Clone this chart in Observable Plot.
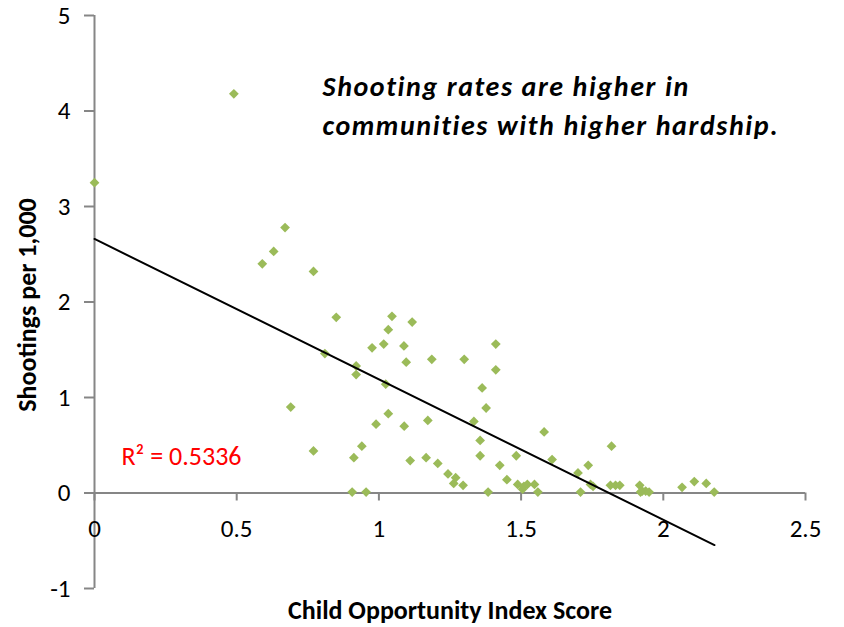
<!DOCTYPE html>
<html>
<head>
<meta charset="utf-8">
<script src="https://cdn.jsdelivr.net/npm/d3@7"></script>
<script src="https://cdn.jsdelivr.net/npm/@observablehq/plot@0.6"></script>
<style>
  html, body { margin: 0; padding: 0; background: #fff; }
  #chart { width: 844px; height: 627px; }
</style>
</head>
<body>
<div id="chart"></div>
<script>
// Child Opportunity Index Score (x) vs shootings per 1,000 (y)
const coiScore = [
  0.00, 0.49, 0.59, 0.63, 0.67, 0.69, 0.77, 0.77, 0.81, 0.85,
  0.906, 0.912, 0.92, 0.92, 0.94, 0.955, 0.976, 0.99, 1.017, 1.024,
  1.033, 1.033, 1.046, 1.088, 1.089, 1.096, 1.11, 1.117, 1.166, 1.172,
  1.186, 1.207, 1.243, 1.27, 1.263, 1.296, 1.30, 1.334, 1.356, 1.356,
  1.363, 1.377, 1.384, 1.411, 1.411, 1.425, 1.45, 1.483, 1.488, 1.505,
  1.51, 1.522, 1.547, 1.559, 1.581, 1.609, 1.70, 1.709, 1.736, 1.744,
  1.753, 1.818, 1.814, 1.832, 1.847, 1.917, 1.926, 1.938, 1.95, 1.92,
  2.066, 2.109, 2.151, 2.179
];
const shootingRate = [
  3.25, 4.18, 2.40, 2.53, 2.78, 0.90, 2.32, 0.44, 1.46, 1.84,
  0.01, 0.37, 1.33, 1.24, 0.49, 0.01, 1.52, 0.72, 1.56, 1.14,
  1.71, 0.83, 1.85, 1.54, 0.70, 1.37, 0.34, 1.79, 0.37, 0.76,
  1.40, 0.31, 0.20, 0.16, 0.10, 0.08, 1.40, 0.75, 0.55, 0.39,
  1.10, 0.89, 0.01, 1.56, 1.29, 0.29, 0.14, 0.39, 0.09, 0.04,
  0.07, 0.09, 0.09, 0.01, 0.64, 0.35, 0.21, 0.01, 0.29, 0.09,
  0.07, 0.49, 0.08, 0.08, 0.08, 0.08, 0.02, 0.02, 0.01, 0.01,
  0.06, 0.12, 0.10, 0.01
];
// Linear trendline end points
const trendX = [0, 2.18];
const trendY = [2.66, -0.545];
const xTicks = [0, 0.5, 1, 1.5, 2, 2.5];
const yTicks = [-1, 0, 1, 2, 3, 4, 5];
const xTitle = "Child Opportunity Index Score";
const yTitle = "Shootings per 1,000";
const rSquaredLabel = "R² = 0.5336";
const annotation = "Shooting rates are higher in\ncommunities with higher hardship.";

const points = coiScore.map((x, i) => ({x, y: shootingRate[i]}));
const trend = trendX.map((x, i) => ({x, y: trendY[i]}));

const W = 844, H = 627;
const mTop = 15, mBottom = 39, mLeft = 94, mRight = 39;
const plotH = H - mTop - mBottom;
const yDomain = [-1, 5];
const zeroShift = -plotH * (0 - yDomain[0]) / (yDomain[1] - yDomain[0]);

const font = "Carlito, Calibri, Lato, 'Open Sans', sans-serif";
const axisColor = "#868686";

const chart = Plot.plot({
  width: W,
  height: H,
  marginTop: mTop,
  marginBottom: mBottom,
  marginLeft: mLeft,
  marginRight: mRight,
  style: {fontFamily: font, background: "#fff", color: "#000"},
  x: {domain: [0, 2.5]},
  y: {domain: yDomain},
  marks: [
    // axis lines
    Plot.ruleY([0], {stroke: axisColor, strokeWidth: 2}),
    Plot.ruleX([0], {stroke: axisColor, strokeWidth: 2}),
    Plot.axisY({
      ticks: yTicks, tickSize: 10, tickPadding: 14, stroke: axisColor, strokeWidth: 2,
      fill: "#000", fontSize: 25, label: null, tickFormat: d => String(d)
    }),
    Plot.axisX({
      ticks: xTicks, tickSize: 8, tickPadding: 18, stroke: axisColor, strokeWidth: 2,
      fill: "#000", fontSize: 25, label: null, dy: zeroShift, tickFormat: d => String(d)
    }),
    // data
    Plot.dot(points, {x: "x", y: "y", symbol: "diamond2", r: 4.4, fill: "#9BBB59", stroke: "none"}),
    Plot.line(trend, {x: "x", y: "y", stroke: "#000", strokeWidth: 2}),
    // R squared
    Plot.text([rSquaredLabel], {
      frameAnchor: "top-left", dx: 121 - mLeft, dy: 446 - mTop, lineAnchor: "top",
      textAnchor: "start", fill: "#ff0000", fontSize: 26, text: d => d
    }),
    // annotation
    Plot.text([annotation], {
      frameAnchor: "top-left", dx: 322 - mLeft, dy: 68 - mTop, lineAnchor: "top",
      textAnchor: "start", fill: "#000", fontSize: 28, fontWeight: "bold",
      fontStyle: "italic", lineHeight: 1.39, text: d => d
    }),
    // axis titles
    Plot.text([xTitle], {
      frameAnchor: "bottom", dy: 30, fontSize: 26, fontWeight: "bold",
      fill: "#000", text: d => d
    }),
    Plot.text([yTitle], {
      frameAnchor: "left", dx: -67, dy: 3, rotate: -90, textAnchor: "middle",
      lineAnchor: "middle", fontSize: 26, fontWeight: "bold", fill: "#000", text: d => d
    })
  ]
});
// slightly wider tracking for the bold italic annotation, as in the reference
d3.select(chart).selectAll("text")
  .filter(function () { return this.textContent.startsWith("Shooting rates"); })
  .style("letter-spacing", "1.6px");
document.getElementById("chart").appendChild(chart);
</script>
</body>
</html>
